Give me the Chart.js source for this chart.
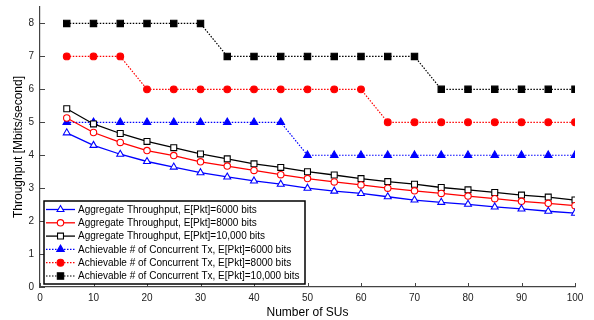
<!DOCTYPE html>
<html>
<head>
<meta charset="utf-8">
<script src="https://cdn.jsdelivr.net/npm/chart.js"></script>
<style>
  html, body { margin: 0; padding: 0; background: #fff; }
</style>
</head>
<body>
<canvas id="chart" width="594" height="320"></canvas>
<script>
// ====== DATA ======
const suCounts = [5, 10, 15, 20, 25, 30, 35, 40, 45, 50, 55, 60, 65, 70, 75, 80, 85, 90, 95, 100];

const aggr6000 = [4.68, 4.30, 4.03, 3.81, 3.64, 3.47, 3.34, 3.22, 3.12, 3.00, 2.91, 2.84, 2.74, 2.64, 2.57, 2.51, 2.43, 2.37, 2.30, 2.24];
const aggr8000 = [5.13, 4.69, 4.39, 4.14, 3.99, 3.80, 3.67, 3.54, 3.41, 3.29, 3.19, 3.10, 3.00, 2.92, 2.84, 2.76, 2.68, 2.60, 2.54, 2.47];
const aggr10000 = [5.41, 4.95, 4.66, 4.42, 4.23, 4.04, 3.89, 3.74, 3.63, 3.50, 3.40, 3.29, 3.20, 3.12, 3.02, 2.95, 2.87, 2.79, 2.73, 2.64];

const conc6000 = [5, 5, 5, 5, 5, 5, 5, 5, 5, 4, 4, 4, 4, 4, 4, 4, 4, 4, 4, 4];
const conc8000 = [7, 7, 7, 6, 6, 6, 6, 6, 6, 6, 6, 6, 5, 5, 5, 5, 5, 5, 5, 5];
const conc10000 = [8, 8, 8, 8, 8, 8, 7, 7, 7, 7, 7, 7, 7, 7, 6, 6, 6, 6, 6, 6];

const seriesLabels = [
  "Aggregate Throughput, E[Pkt]=6000 bits",
  "Aggregate Throughput, E[Pkt]=8000 bits",
  "Aggregate Throughput, E[Pkt]=10,000 bits",
  "Achievable # of Concurrent Tx, E[Pkt]=6000 bits",
  "Achievable # of Concurrent Tx, E[Pkt]=8000 bits",
  "Achievable # of Concurrent Tx, E[Pkt]=10,000 bits"
];

const xTicks = [0, 10, 20, 30, 40, 50, 60, 70, 80, 90, 100];
const yTicks = [0, 1, 2, 3, 4, 5, 6, 7, 8];

const FONT = "Arial, 'Liberation Sans', sans-serif";
const AXIS_COLOR = "#444";

function toPoints(values) {
  return values.map((v, i) => ({ x: suCounts[i], y: v }));
}

// solid lines with open markers, dotted lines with filled markers
function makeSeries(label, values, color, style, radius, open) {
  return {
    label: label,
    data: toPoints(values),
    borderColor: color,
    backgroundColor: open ? "#fff" : color,
    borderWidth: open ? 1.3 : 1.2,
    borderDash: open ? [] : [1.5, 1.5],
    pointStyle: style,
    pointRadius: radius,
    pointBorderWidth: 1.1,
    pointBorderColor: color,
    pointBackgroundColor: open ? "#fff" : color,
    tension: 0,
    fill: false
  };
}

// ====== INWARD TICK MARKS ======
const innerTicks = {
  id: "innerTicks",
  afterDraw(chart) {
    const ctx = chart.ctx;
    const xs = chart.scales.x, ys = chart.scales.y;
    const area = chart.chartArea;
    ctx.save();
    ctx.strokeStyle = AXIS_COLOR;
    ctx.lineWidth = 1;
    ctx.beginPath();
    xTicks.forEach((t) => {
      const px = Math.round(xs.getPixelForValue(t)) + 0.5;
      ctx.moveTo(px, area.bottom);
      ctx.lineTo(px, area.bottom - 4);
    });
    yTicks.forEach((t) => {
      const py = Math.round(ys.getPixelForValue(t)) + 0.5;
      ctx.moveTo(area.left, py);
      ctx.lineTo(area.left + 5, py);
    });
    ctx.stroke();
    ctx.restore();
  }
};

// ====== LEGEND INSIDE PLOT ======
const boxLegend = {
  id: "boxLegend",
  afterDraw(chart) {
    const ctx = chart.ctx;
    const area = chart.chartArea;
    const ds = chart.data.datasets;
    const rowH = 13.3;
    const boxW = 261, boxH = 83;
    const bx = area.left + 4, by = area.bottom - 3 - boxH;

    ctx.save();
    ctx.fillStyle = "#fff";
    ctx.fillRect(bx, by, boxW, boxH);
    ctx.strokeStyle = "#000";
    ctx.lineWidth = 1.5;
    ctx.strokeRect(bx, by, boxW, boxH);

    ctx.font = "10px " + FONT;
    ctx.textBaseline = "middle";
    ds.forEach((d, i) => {
      const cy = by + 8.5 + i * rowH;
      ctx.save();
      ctx.strokeStyle = d.borderColor;
      ctx.lineWidth = d.borderWidth;
      ctx.setLineDash(d.borderDash);
      ctx.beginPath();
      ctx.moveTo(bx + 2, cy);
      ctx.lineTo(bx + 31, cy);
      ctx.stroke();
      ctx.restore();

      ctx.save();
      ctx.strokeStyle = d.pointBorderColor;
      ctx.fillStyle = d.pointBackgroundColor;
      ctx.lineWidth = d.pointBorderWidth;
      Chart.helpers.drawPoint(ctx, { pointStyle: d.pointStyle, radius: d.pointRadius, rotation: 0, borderWidth: d.pointBorderWidth }, bx + 16.5, cy);
      ctx.restore();

      ctx.fillStyle = "#000";
      ctx.fillText(d.label, bx + 34, cy + 0.5);
    });
    ctx.restore();
  }
};

const ctx = document.getElementById("chart").getContext("2d");

new Chart(ctx, {
  type: "line",
  data: {
    datasets: [
      makeSeries(seriesLabels[0], aggr6000, "#0000ff", "triangle", 4, true),
      makeSeries(seriesLabels[1], aggr8000, "#ff0000", "circle", 3.2, true),
      makeSeries(seriesLabels[2], aggr10000, "#000000", "rect", 4.2, true),
      makeSeries(seriesLabels[3], conc6000, "#0000ff", "triangle", 4.3, false),
      makeSeries(seriesLabels[4], conc8000, "#ff0000", "circle", 3.4, false),
      makeSeries(seriesLabels[5], conc10000, "#000000", "rect", 4.5, false)
    ]
  },
  options: {
    responsive: false,
    animation: false,
    layout: { padding: { left: 0, right: 19, top: 7, bottom: 0 } },
    plugins: {
      legend: { display: false },
      tooltip: { enabled: false }
    },
    scales: {
      x: {
        type: "linear",
        min: 0,
        max: 100,
        afterBuildTicks: (axis) => { axis.ticks = xTicks.map((v) => ({ value: v })); },
        afterFit: (axis) => { axis.height = 33; axis.paddingLeft = 0; axis.paddingRight = 0; },
        grid: { display: true, drawOnChartArea: false, drawTicks: false, color: AXIS_COLOR },
        border: { color: AXIS_COLOR, width: 1.2 },
        ticks: { color: "#222", font: { family: FONT, size: 10 }, padding: 5, maxRotation: 0 },
        title: { display: true, text: "Number of SUs", color: "#000", font: { family: FONT, size: 12 }, padding: { top: 0, bottom: 0 } }
      },
      y: {
        type: "linear",
        min: 0,
        max: 8.5,
        afterBuildTicks: (axis) => { axis.ticks = yTicks.map((v) => ({ value: v })); },
        afterFit: (axis) => { axis.width = 40; axis.paddingTop = 0; axis.paddingBottom = 0; },
        grid: { display: true, drawOnChartArea: false, drawTicks: false, color: AXIS_COLOR },
        border: { color: AXIS_COLOR, width: 1.2 },
        ticks: { color: "#222", font: { family: FONT, size: 10 }, padding: 6 },
        title: { display: true, text: "Throughput [Mbits/second]", color: "#000", font: { family: FONT, size: 12 }, padding: { top: 11, bottom: 0 } }
      }
    }
  },
  plugins: [innerTicks, boxLegend]
});
</script>
</body>
</html>
